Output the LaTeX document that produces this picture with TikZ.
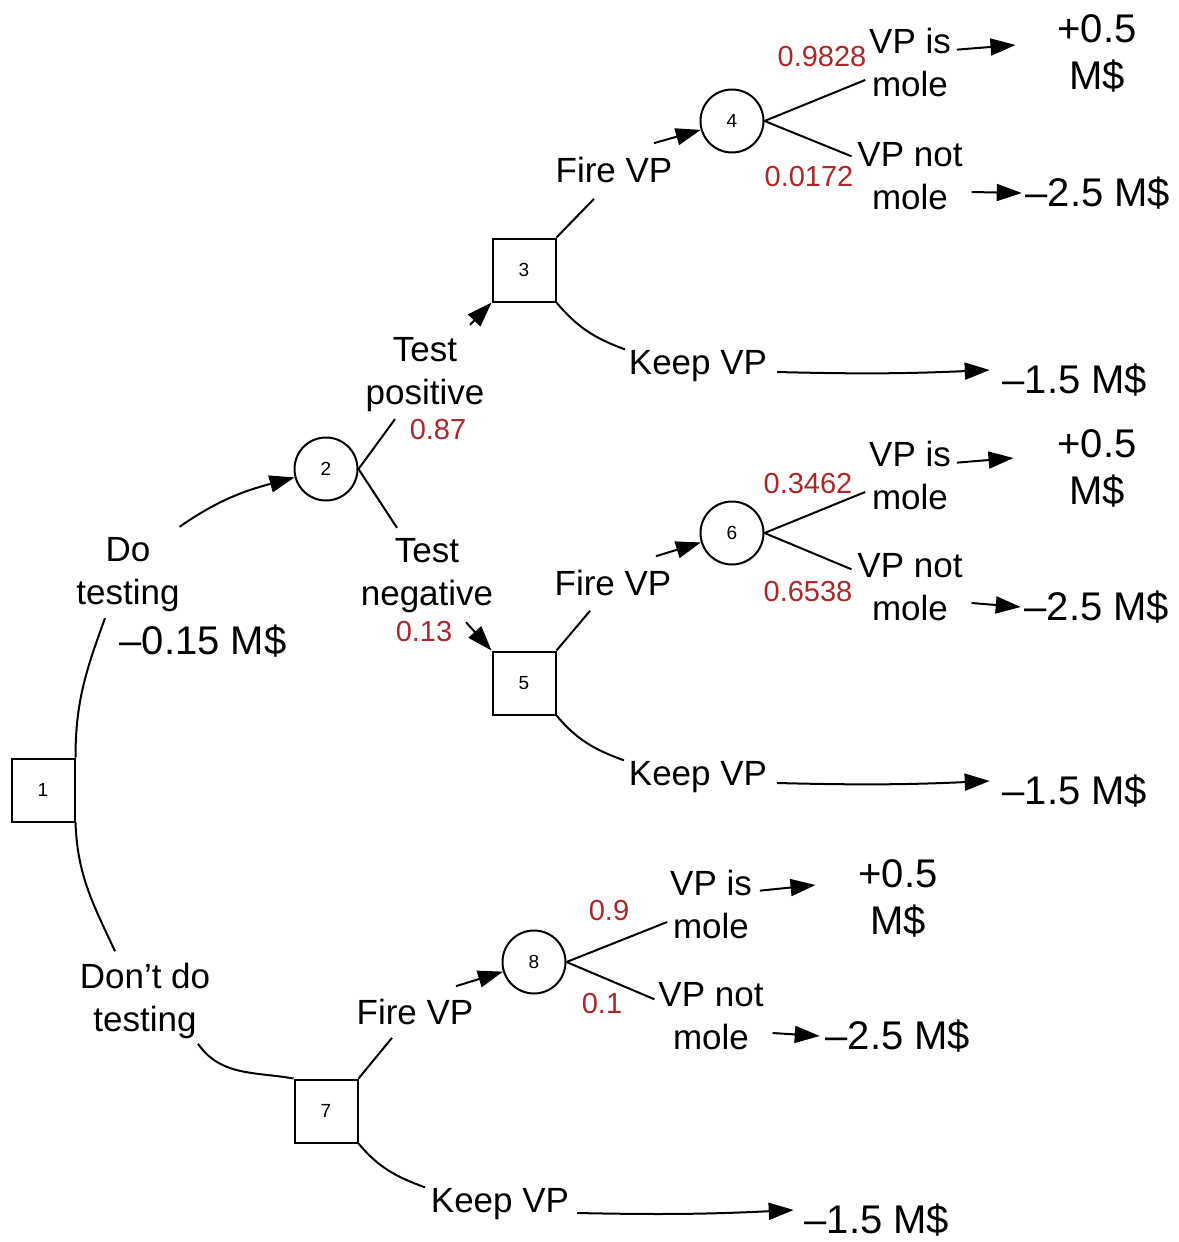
\documentclass[tikz,border=0pt]{standalone}
\usepackage{fontspec}
\setmainfont{Liberation Sans}
\usetikzlibrary{arrows.meta}
\definecolor{probred}{RGB}{172,40,40}

\begin{document}
\begin{tikzpicture}[x=1pt,y=1pt,line width=2pt,
    decision/.style={draw,rectangle,minimum size=63pt,inner sep=0pt,font=\fontsize{19}{21}\selectfont},
    chance/.style={draw,circle,minimum size=63pt,inner sep=0pt,font=\fontsize{19}{21}\selectfont},
    lbl/.style={inner sep=0pt,align=center,font=\fontsize{35}{43}\selectfont},
    prob/.style={inner sep=0pt,text=probred,font=\fontsize{29}{33}\selectfont},
    payoff/.style={inner sep=0pt,align=center,font=\fontsize{40}{47}\selectfont},
    arr/.style={-{Triangle[length=25pt,width=17pt]}}]

        \useasboundingbox (0,0) rectangle (1178,-1242);

        % Decision (square) and chance (circle) nodes
        \node[decision] (n1) at (43,-790) {1};
        \node[chance] (n2) at (326,-469) {2};
        \node[decision] (n3) at (524,-270) {3};
        \node[chance] (n4) at (732,-121) {4};
        \node[decision] (n5) at (524,-683) {5};
        \node[chance] (n6) at (732,-533) {6};
        \node[decision] (n7) at (326,-1111) {7};
        \node[chance] (n8) at (534,-962) {8};

        % Testing decision
        \node[lbl] (dotest) at (128,-575) {Do\\testing};
        \node[payoff] (cost) at (203,-641) {–0.15 M\$};
        \node[lbl] (notest) at (145,-1001) {Don’t do\\testing};
        \node[lbl] (tpos) at (425,-375) {Test\\positive};
        \node[prob] (ppos) at (438,-430) {0.87};
        \node[lbl] (tneg) at (427,-576) {Test\\negative};
        \node[prob] (pneg) at (424,-632) {0.13};

        % Test positive branch
        \node[lbl] (fire3) at (614,-170) {Fire VP};
        \node[lbl] (keep3) at (698,-366) {Keep VP};
        \node[payoff] (pay3) at (1075,-380) {–1.5 M\$};
        \node[lbl] (is4) at (910,-62) {VP is\\mole};
        \node[lbl] (not4) at (910,-176) {VP not\\mole};
        \node[prob] (p4a) at (822,-57) {0.9828};
        \node[prob] (p4b) at (809,-177) {0.0172};
        \node[payoff] (pay4a) at (1097,-53) {+0.5\\M\$};
        \node[payoff] (pay4b) at (1098,-193) {–2.5 M\$};

        % Test negative branch
        \node[lbl] (fire5) at (613,-583) {Fire VP};
        \node[lbl] (keep5) at (698,-777) {Keep VP};
        \node[payoff] (pay5) at (1075,-791) {–1.5 M\$};
        \node[lbl] (is6) at (910,-475) {VP is\\mole};
        \node[lbl] (not6) at (910,-587) {VP not\\mole};
        \node[prob] (p6a) at (808,-484) {0.3462};
        \node[prob] (p6b) at (808,-592) {0.6538};
        \node[payoff] (pay6a) at (1097,-468) {+0.5\\M\$};
        \node[payoff] (pay6b) at (1097,-607) {–2.5 M\$};

        % No testing branch
        \node[lbl] (fire7) at (415,-1012) {Fire VP};
        \node[lbl] (keep7) at (500,-1204) {Keep VP};
        \node[payoff] (pay7) at (877,-1220) {–1.5 M\$};
        \node[lbl] (is8) at (711,-904) {VP is\\mole};
        \node[lbl] (not8) at (711,-1016) {VP not\\mole};
        \node[prob] (p8a) at (609,-911) {0.9};
        \node[prob] (p8b) at (602,-1004) {0.1};
        \node[payoff] (pay8a) at (898,-898) {+0.5\\M\$};
        \node[payoff] (pay8b) at (898,-1036) {–2.5 M\$};

        % Connectors from 1 and 2
        \draw (n1.north east) to[out=90,in=-110] ([shift={(-23,-5)}]dotest.south);
        \draw[arr] ([shift={(-1,10)}]dotest.north east) to[out=35,in=195] (n2);
        \draw (n1.south east) to[out=-88,in=115] ([shift={(-30,11)}]notest.north);
        \draw ([shift={(53,-4)}]notest.south) to[out=-55,in=170] (n7.north west);
        \draw (n2.east) -- ([shift={(-30,-6)}]tpos.south);
        \draw[arr] ([shift={(45,12)}]tpos.north) -- (n3.south west);
        \draw (n2.east) -- ([shift={(-30,10)}]tneg.north);
        \draw[arr] ([shift={(39,-8)}]tneg.south) -- (n5.north west);

        % Connectors from 3 and 4
        \draw (n3.north east) -- ([shift={(-20,-15)}]fire3.south);
        \draw[arr] ([shift={(40,13)}]fire3.north) -- (n4);
        \draw (n3.south east) to[out=-50,in=160] ([xshift=-3]keep3.north west);
        \draw[arr] ([shift={(9,-6)}]keep3.east) to[bend right=2] ([shift={(-12,10)}]pay3.west);
        \draw (n4.east) -- ([shift={(-3,-18)}]is4.west);
        \draw (n4.east) -- ([shift={(-5,-15)}]not4.north west);
        \draw[arr] ([shift={(5,-23)}]is4.north east) -- ([shift={(-41,8)}]pay4a.west);
        \draw[arr] ([shift={(8,-16)}]not4.east) -- ([xshift=-3]pay4b.west);

        % Connectors from 5 and 6
        \draw (n5.north east) -- ([shift={(-23,-14)}]fire5.south);
        \draw[arr] ([shift={(43,13)}]fire5.north) -- (n6);
        \draw (n5.south east) to[out=-50,in=160] ([xshift=-4]keep5.north west);
        \draw[arr] ([shift={(9,-6)}]keep5.east) to[bend right=2] ([shift={(-12,10)}]pay5.west);
        \draw (n6.east) -- ([shift={(-3,-17)}]is6.west);
        \draw (n6.east) -- ([shift={(-5,-17)}]not6.north west);
        \draw[arr] ([shift={(5,-23)}]is6.north east) -- ([shift={(-43,10)}]pay6a.west);
        \draw[arr] ([shift={(8,-16)}]not6.east) -- ([xshift=-3]pay6b.west);

        % Connectors from 7 and 8
        \draw (n7.north east) -- ([shift={(-23,-12)}]fire7.south);
        \draw[arr] ([shift={(41,12)}]fire7.north) -- (n8);
        \draw (n7.south east) to[out=-50,in=160] ([xshift=-5]keep7.north west);
        \draw[arr] ([shift={(7,-9)}]keep7.east) to[bend right=2] ([shift={(-10,10)}]pay7.west);
        \draw (n8.east) -- ([shift={(-2,-18)}]is8.west);
        \draw (n8.east) -- ([shift={(-3,-18)}]not8.north west);
        \draw[arr] ([shift={(7,-22)}]is8.north east) -- ([shift={(-42,13)}]pay8a.west);
        \draw[arr] ([shift={(8,-17)}]not8.east) -- ([xshift=-5]pay8b.west);

\end{tikzpicture}
\end{document}
